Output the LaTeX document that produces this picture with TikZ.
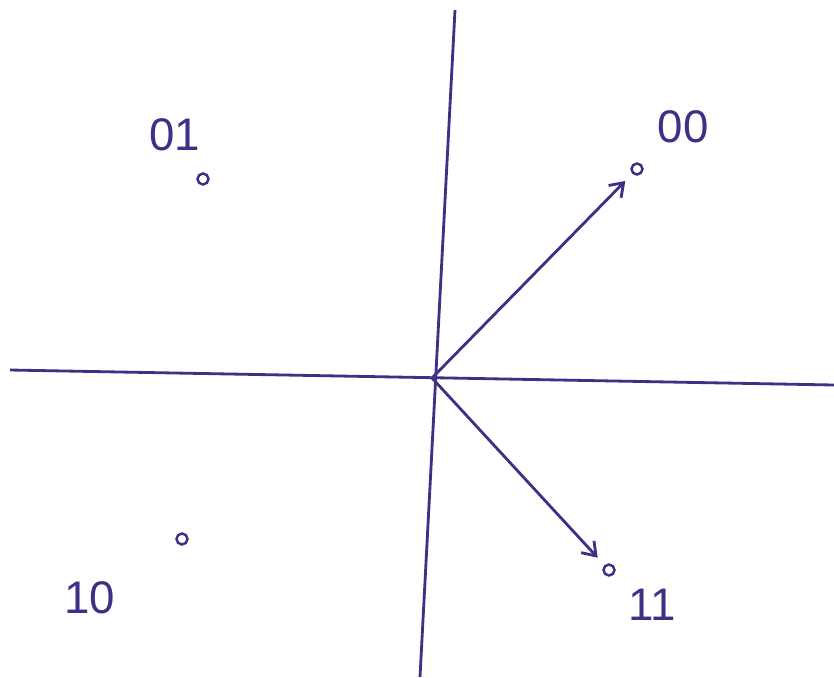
\documentclass[tikz,border=0pt]{standalone}
\usepackage{fontspec}
\setsansfont{Liberation Sans}
\usetikzlibrary{arrows.meta}
\definecolor{ink}{RGB}{62,48,135}
\tikzset{
	inkline/.style={ink, line width=1.6pt},
	dot/.style={circle, draw=ink, line width=1.4pt, inner sep=0pt, minimum size=0.22cm},
	bitlabel/.style={font=\sffamily\fontsize{26}{26}\selectfont\color{ink}}
}

\begin{document}
\begin{tikzpicture}[x=0.02cm, y=-0.02cm, >={Straight Barb[length=2.5mm, width=3.5mm]}]
      \useasboundingbox (0,0) rectangle (834,677);
      % axes
      \coordinate (o) at (432,378);
      \coordinate (ytop) at (455,10);
      \coordinate (ybot) at (420,677);
      \coordinate (xl) at (10,370);
      \coordinate (xr) at (834,385);
      \draw[inkline] (ytop) -- (ybot);
      \draw[inkline] (xl) -- (xr);
      % constellation points
      \node[dot] (p01) at (203,179) {};
      \node[dot] (p00) at (637,169) {};
      \node[dot] (p10) at (182,539) {};
      \node[dot] (p11) at (609,570) {};
      \node[bitlabel] (l01) at (175,135) {01};
      \node[bitlabel] (l00) at (683,127) {00};
      \node[bitlabel] (l10) at (90,598) {10};
      \node[bitlabel] (l11) at (652,605) {11};
      % vectors
      \draw[inkline, ->, shorten >=0.2cm] (o) -- (p00);
      \draw[inkline, ->, shorten >=0.2cm] (o) -- (p11);
    \end{tikzpicture}
\end{document}
